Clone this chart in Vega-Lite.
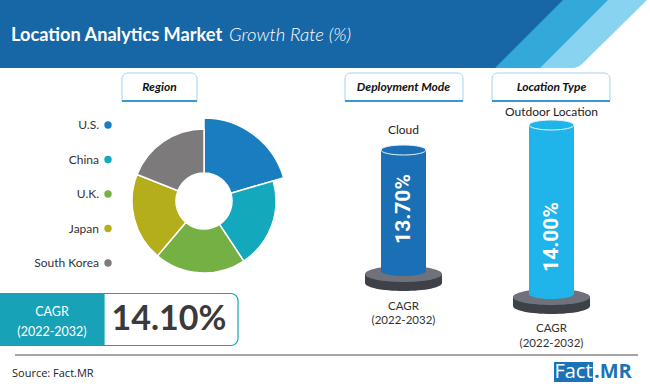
{
  "$schema": "https://vega.github.io/schema/vega-lite/v6.json",
  "width": 650,
  "height": 392,
  "autosize": {"type": "fit", "contains": "padding"},
  "padding": 0,
  "background": "white",
  "config": {"view": {"stroke": null}},
  "datasets": {
    "regions": [
      {"region": "U.S.", "share": 20.5},
      {"region": "China", "share": 20.2},
      {"region": "U.K.", "share": 20.5},
      {"region": "Japan", "share": 19.8},
      {"region": "South Korea", "share": 19.0}
    ],
    "segments": [
      {"segment": "Deployment Mode", "category": "Cloud", "cagr": 0.137},
      {"segment": "Location Type", "category": "Outdoor Location", "cagr": 0.14}
    ],
    "overall": [{"market": "Location Analytics Market", "period": "2022-2032", "cagr": 0.141}],
    "blank": [{}]
  },
  "layer": [
    {
      "data": {"name": "blank"},
      "mark": {"type": "point", "shape": "M0,0L647,0L582,64Q578,68 572,68L0,68Z", "size": 4, "filled": true, "color": "#87d3f0", "opacity": 1, "strokeWidth": 0},
      "encoding": {"x": {"value": 0}, "y": {"value": 0}}
    },
    {
      "data": {"name": "blank"},
      "mark": {"type": "point", "shape": "M0,0L608,0L540,68L0,68Z", "size": 4, "filled": true, "color": "#35a8da", "opacity": 1, "strokeWidth": 0},
      "encoding": {"x": {"value": 0}, "y": {"value": 0}}
    },
    {
      "data": {"name": "blank"},
      "mark": {"type": "point", "shape": "M0,0L563,0L495,68L0,68Z", "size": 4, "filled": true, "color": "#1766a6", "opacity": 1, "strokeWidth": 0},
      "encoding": {"x": {"value": 0}, "y": {"value": 0}}
    },
    {
      "data": {"name": "blank"},
      "mark": {"type": "text", "text": "Location Analytics Market", "font": "Lato", "fontWeight": "bold", "fontSize": 18.2, "color": "white", "align": "left", "baseline": "alphabetic"},
      "encoding": {"x": {"value": 11}, "y": {"value": 41}}
    },
    {
      "data": {"name": "blank"},
      "mark": {"type": "text", "text": "Growth Rate (%)", "font": "Lato", "fontStyle": "italic", "fontWeight": 300, "fontSize": 18.5, "color": "white", "align": "left", "baseline": "alphabetic"},
      "encoding": {"x": {"value": 229}, "y": {"value": 41}}
    },
    {
      "data": {"name": "blank"},
      "mark": {"type": "rect", "fill": "white", "stroke": "#9fd3f0", "strokeWidth": 1, "cornerRadiusTopLeft": 6, "cornerRadiusTopRight": 6},
      "encoding": {"x": {"value": 122}, "x2": {"value": 197}, "y": {"value": 73}, "y2": {"value": 101}}
    },
    {
      "data": {"name": "blank"},
      "mark": {"type": "rect", "fill": "white", "stroke": "#9fd3f0", "strokeWidth": 1, "cornerRadiusTopLeft": 6, "cornerRadiusTopRight": 6},
      "encoding": {"x": {"value": 345}, "x2": {"value": 463}, "y": {"value": 73}, "y2": {"value": 101}}
    },
    {
      "data": {"name": "blank"},
      "mark": {"type": "rect", "fill": "white", "stroke": "#9fd3f0", "strokeWidth": 1, "cornerRadiusTopLeft": 6, "cornerRadiusTopRight": 6},
      "encoding": {"x": {"value": 492}, "x2": {"value": 610}, "y": {"value": 73}, "y2": {"value": 101}}
    },
    {
      "data": {"name": "blank"},
      "mark": {"type": "rule", "stroke": "#3a97d6", "strokeWidth": 2},
      "encoding": {"x": {"value": 122}, "x2": {"value": 197}, "y": {"value": 101}}
    },
    {
      "data": {"name": "blank"},
      "mark": {"type": "rule", "stroke": "#3a97d6", "strokeWidth": 2},
      "encoding": {"x": {"value": 345}, "x2": {"value": 463}, "y": {"value": 101}}
    },
    {
      "data": {"name": "blank"},
      "mark": {"type": "rule", "stroke": "#3a97d6", "strokeWidth": 2},
      "encoding": {"x": {"value": 492}, "x2": {"value": 610}, "y": {"value": 101}}
    },
    {
      "data": {"name": "blank"},
      "mark": {"type": "text", "text": "Region", "font": "Lato", "fontWeight": "bold", "fontStyle": "italic", "fontSize": 12, "color": "#111111", "align": "center", "baseline": "middle"},
      "encoding": {"x": {"value": 159.5}, "y": {"value": 87}}
    },
    {
      "data": {"name": "segments"},
      "mark": {"type": "text", "font": "Lato", "fontWeight": "bold", "fontStyle": "italic", "fontSize": 12, "color": "#111111", "align": "center", "baseline": "middle"},
      "encoding": {
        "x": {"field": "category", "type": "nominal", "scale": {"type": "point", "domain": ["Cloud", "Outdoor Location"], "range": [403.5, 551.5], "padding": 0}, "axis": null},
        "y": {"value": 87},
        "text": {"field": "segment"}
      }
    },
    {
      "data": {"name": "regions"},
      "transform": [{"window": [{"op": "row_number", "as": "idx"}]}],
      "mark": {"type": "arc", "radius": 83, "radius2": 28, "stroke": "white", "strokeWidth": 1.5},
      "encoding": {
        "theta": {"field": "share", "type": "quantitative", "stack": true},
        "color": {"field": "region", "type": "nominal", "scale": {"domain": ["U.S.", "China", "U.K.", "Japan", "South Korea"], "range": ["#1a7dbf", "#14a8bd", "#74b044", "#b4ad1c", "#7c7a7b"]}, "legend": null},
        "order": {"field": "idx", "type": "quantitative", "sort": "ascending"},
        "opacity": {"condition": {"test": "datum.region === 'U.S.'", "value": 1}, "value": 0},
        "x": {"value": 204},
        "y": {"value": 201}
      }
    },
    {
      "data": {"name": "regions"},
      "transform": [{"window": [{"op": "row_number", "as": "idx"}]}],
      "mark": {"type": "arc", "radius": 72, "radius2": 28, "stroke": "white", "strokeWidth": 1.5},
      "encoding": {
        "theta": {"field": "share", "type": "quantitative", "stack": true},
        "color": {"field": "region", "type": "nominal", "legend": null},
        "order": {"field": "idx", "type": "quantitative", "sort": "ascending"},
        "opacity": {"condition": {"test": "datum.region === 'U.S.'", "value": 0}, "value": 1},
        "x": {"value": 204},
        "y": {"value": 201}
      }
    },
    {
      "data": {"name": "regions"},
      "mark": {"type": "text", "font": "Lato", "fontSize": 12, "color": "#333333", "align": "right", "baseline": "middle"},
      "encoding": {
        "y": {"field": "region", "type": "nominal", "scale": {"type": "point", "domain": ["U.S.", "China", "U.K.", "Japan", "South Korea"], "range": [125, 263], "padding": 0}, "axis": null},
        "x": {"value": 99},
        "text": {"field": "region"}
      }
    },
    {
      "data": {"name": "regions"},
      "mark": {"type": "circle", "size": 55, "opacity": 1},
      "encoding": {
        "y": {"field": "region", "type": "nominal", "axis": null},
        "x": {"value": 108},
        "color": {"field": "region", "type": "nominal", "legend": null}
      }
    },
    {
      "data": {"name": "segments"},
      "transform": [{"filter": "datum.category === 'Cloud'"}],
      "layer": [
        {"mark": {"type": "point", "shape": "M-38.5,0L-38.5,9A38.5,8,0,0,0,38.5,9L38.5,0Z", "size": 4, "filled": true, "color": "#3f4148", "opacity": 1, "strokeWidth": 0}, "encoding": {"x": {"field": "category", "type": "nominal"}, "y": {"value": 274}}},
        {"mark": {"type": "point", "shape": "M-38.5,0A38.5,8,0,1,0,38.5,0A38.5,8,0,1,0,-38.5,0Z", "size": 4, "filled": true, "color": "#6f727a", "opacity": 1, "strokeWidth": 0}, "encoding": {"x": {"field": "category", "type": "nominal"}, "y": {"value": 274}}},
        {"mark": {"type": "point", "shape": "M-22.5,0A22.5,5,0,1,0,22.5,0A22.5,5,0,1,0,-22.5,0Z", "size": 4, "filled": true, "color": "#1b6fb4", "opacity": 1, "strokeWidth": 0}, "encoding": {"x": {"field": "category", "type": "nominal"}, "y": {"value": 271}}},
        {"mark": {"type": "rule", "stroke": "#1b6fb4", "strokeWidth": 45, "strokeCap": "butt"}, "encoding": {"x": {"field": "category", "type": "nominal"}, "y": {"value": 150}, "y2": {"value": 271}}},
        {"mark": {"type": "point", "shape": "M-22.5,0A22.5,5,0,1,0,22.5,0A22.5,5,0,1,0,-22.5,0Z", "size": 4, "filled": true, "fill": "#1b6fb4", "stroke": "#e8f2fa", "strokeWidth": 1, "opacity": 1}, "encoding": {"x": {"field": "category", "type": "nominal"}, "y": {"value": 150}}},
        {"mark": {"type": "text", "angle": 270, "font": "Roboto", "fontWeight": "bold", "fontSize": 21, "color": "white", "align": "center", "baseline": "middle"}, "encoding": {"x": {"field": "category", "type": "nominal"}, "y": {"value": 209}, "text": {"field": "cagr", "type": "quantitative", "format": ".2%"}}},
        {"mark": {"type": "text", "font": "Lato", "fontSize": 12, "color": "#222222", "align": "center", "baseline": "middle"}, "encoding": {"x": {"field": "category", "type": "nominal"}, "y": {"value": 130}, "text": {"field": "category"}}},
        {"mark": {"type": "text", "font": "Lato", "fontSize": 11.5, "color": "#333333", "align": "center", "baseline": "middle", "text": "CAGR"}, "encoding": {"x": {"field": "category", "type": "nominal"}, "y": {"value": 307}}},
        {"mark": {"type": "text", "font": "Lato", "fontSize": 11.5, "color": "#333333", "align": "center", "baseline": "middle", "text": "(2022-2032)"}, "encoding": {"x": {"field": "category", "type": "nominal"}, "y": {"value": 321}}}
      ]
    },
    {
      "data": {"name": "segments"},
      "transform": [{"filter": "datum.category === 'Outdoor Location'"}],
      "layer": [
        {"mark": {"type": "point", "shape": "M-38.5,0L-38.5,9A38.5,8,0,0,0,38.5,9L38.5,0Z", "size": 4, "filled": true, "color": "#3f4148", "opacity": 1, "strokeWidth": 0}, "encoding": {"x": {"field": "category", "type": "nominal"}, "y": {"value": 297}}},
        {"mark": {"type": "point", "shape": "M-38.5,0A38.5,8,0,1,0,38.5,0A38.5,8,0,1,0,-38.5,0Z", "size": 4, "filled": true, "color": "#6f727a", "opacity": 1, "strokeWidth": 0}, "encoding": {"x": {"field": "category", "type": "nominal"}, "y": {"value": 297}}},
        {"mark": {"type": "point", "shape": "M-22.5,0A22.5,5,0,1,0,22.5,0A22.5,5,0,1,0,-22.5,0Z", "size": 4, "filled": true, "color": "#1fb5ea", "opacity": 1, "strokeWidth": 0}, "encoding": {"x": {"field": "category", "type": "nominal"}, "y": {"value": 294}}},
        {"mark": {"type": "rule", "stroke": "#1fb5ea", "strokeWidth": 45, "strokeCap": "butt"}, "encoding": {"x": {"field": "category", "type": "nominal"}, "y": {"value": 125}, "y2": {"value": 294}}},
        {"mark": {"type": "point", "shape": "M-22.5,0A22.5,5,0,1,0,22.5,0A22.5,5,0,1,0,-22.5,0Z", "size": 4, "filled": true, "fill": "#1fb5ea", "stroke": "#e8f7fd", "strokeWidth": 1, "opacity": 1}, "encoding": {"x": {"field": "category", "type": "nominal"}, "y": {"value": 125}}},
        {"mark": {"type": "text", "angle": 270, "font": "Roboto", "fontWeight": "bold", "fontSize": 21, "color": "white", "align": "center", "baseline": "middle"}, "encoding": {"x": {"field": "category", "type": "nominal"}, "y": {"value": 237}, "text": {"field": "cagr", "type": "quantitative", "format": ".2%"}}},
        {"mark": {"type": "text", "font": "Lato", "fontSize": 12, "color": "#222222", "align": "center", "baseline": "middle"}, "encoding": {"x": {"field": "category", "type": "nominal"}, "y": {"value": 112}, "text": {"field": "category"}}},
        {"mark": {"type": "text", "font": "Lato", "fontSize": 11.5, "color": "#333333", "align": "center", "baseline": "middle", "text": "CAGR"}, "encoding": {"x": {"field": "category", "type": "nominal"}, "y": {"value": 329}}},
        {"mark": {"type": "text", "font": "Lato", "fontSize": 11.5, "color": "#333333", "align": "center", "baseline": "middle", "text": "(2022-2032)"}, "encoding": {"x": {"field": "category", "type": "nominal"}, "y": {"value": 344}}}
      ]
    },
    {
      "data": {"name": "blank"},
      "mark": {"type": "rect", "fill": "#17a2b8"},
      "encoding": {"x": {"value": 0}, "x2": {"value": 104}, "y": {"value": 293}, "y2": {"value": 346}}
    },
    {
      "data": {"name": "blank"},
      "mark": {"type": "rect", "fill": "white", "stroke": "#17a2b8", "strokeWidth": 1.2, "cornerRadiusTopRight": 7, "cornerRadiusBottomRight": 7},
      "encoding": {"x": {"value": 104}, "x2": {"value": 238}, "y": {"value": 293.5}, "y2": {"value": 345.5}}
    },
    {
      "data": {"name": "blank"},
      "mark": {"type": "text", "text": "CAGR", "font": "Lato", "fontSize": 12.5, "color": "white", "align": "center", "baseline": "middle"},
      "encoding": {"x": {"value": 52}, "y": {"value": 312}}
    },
    {
      "data": {"name": "blank"},
      "mark": {"type": "text", "text": "(2022-2032)", "font": "Lato", "fontSize": 12.5, "color": "white", "align": "center", "baseline": "middle"},
      "encoding": {"x": {"value": 52}, "y": {"value": 332}}
    },
    {
      "data": {"name": "overall"},
      "mark": {"type": "text", "font": "Lato", "fontWeight": "bold", "fontSize": 34, "color": "#3a3a3a", "align": "center", "baseline": "middle"},
      "encoding": {"x": {"value": 169}, "y": {"value": 320}, "text": {"field": "cagr", "type": "quantitative", "format": ".2%"}}
    },
    {
      "data": {"name": "blank"},
      "mark": {"type": "rule", "stroke": "#a6a6a6", "strokeWidth": 2},
      "encoding": {"x": {"value": 15}, "x2": {"value": 638}, "y": {"value": 355}}
    },
    {
      "data": {"name": "blank"},
      "mark": {"type": "text", "text": "Source: Fact.MR", "font": "Open Sans", "fontSize": 11, "color": "#222222", "align": "left", "baseline": "middle"},
      "encoding": {"x": {"value": 12}, "y": {"value": 374}}
    },
    {
      "data": {"name": "blank"},
      "mark": {"type": "rect", "fill": "#1a73b9"},
      "encoding": {"x": {"value": 554}, "x2": {"value": 593}, "y": {"value": 362}, "y2": {"value": 382}}
    },
    {
      "data": {"name": "blank"},
      "mark": {"type": "text", "text": "Fact", "font": "Open Sans", "fontSize": 20, "color": "white", "align": "center", "baseline": "middle"},
      "encoding": {"x": {"value": 573.5}, "y": {"value": 372}}
    },
    {
      "data": {"name": "blank"},
      "mark": {"type": "text", "text": ".MR", "font": "Open Sans", "fontWeight": "bold", "fontSize": 20, "color": "#1a73b9", "align": "left", "baseline": "middle"},
      "encoding": {"x": {"value": 594}, "y": {"value": 372}}
    }
  ]
}
